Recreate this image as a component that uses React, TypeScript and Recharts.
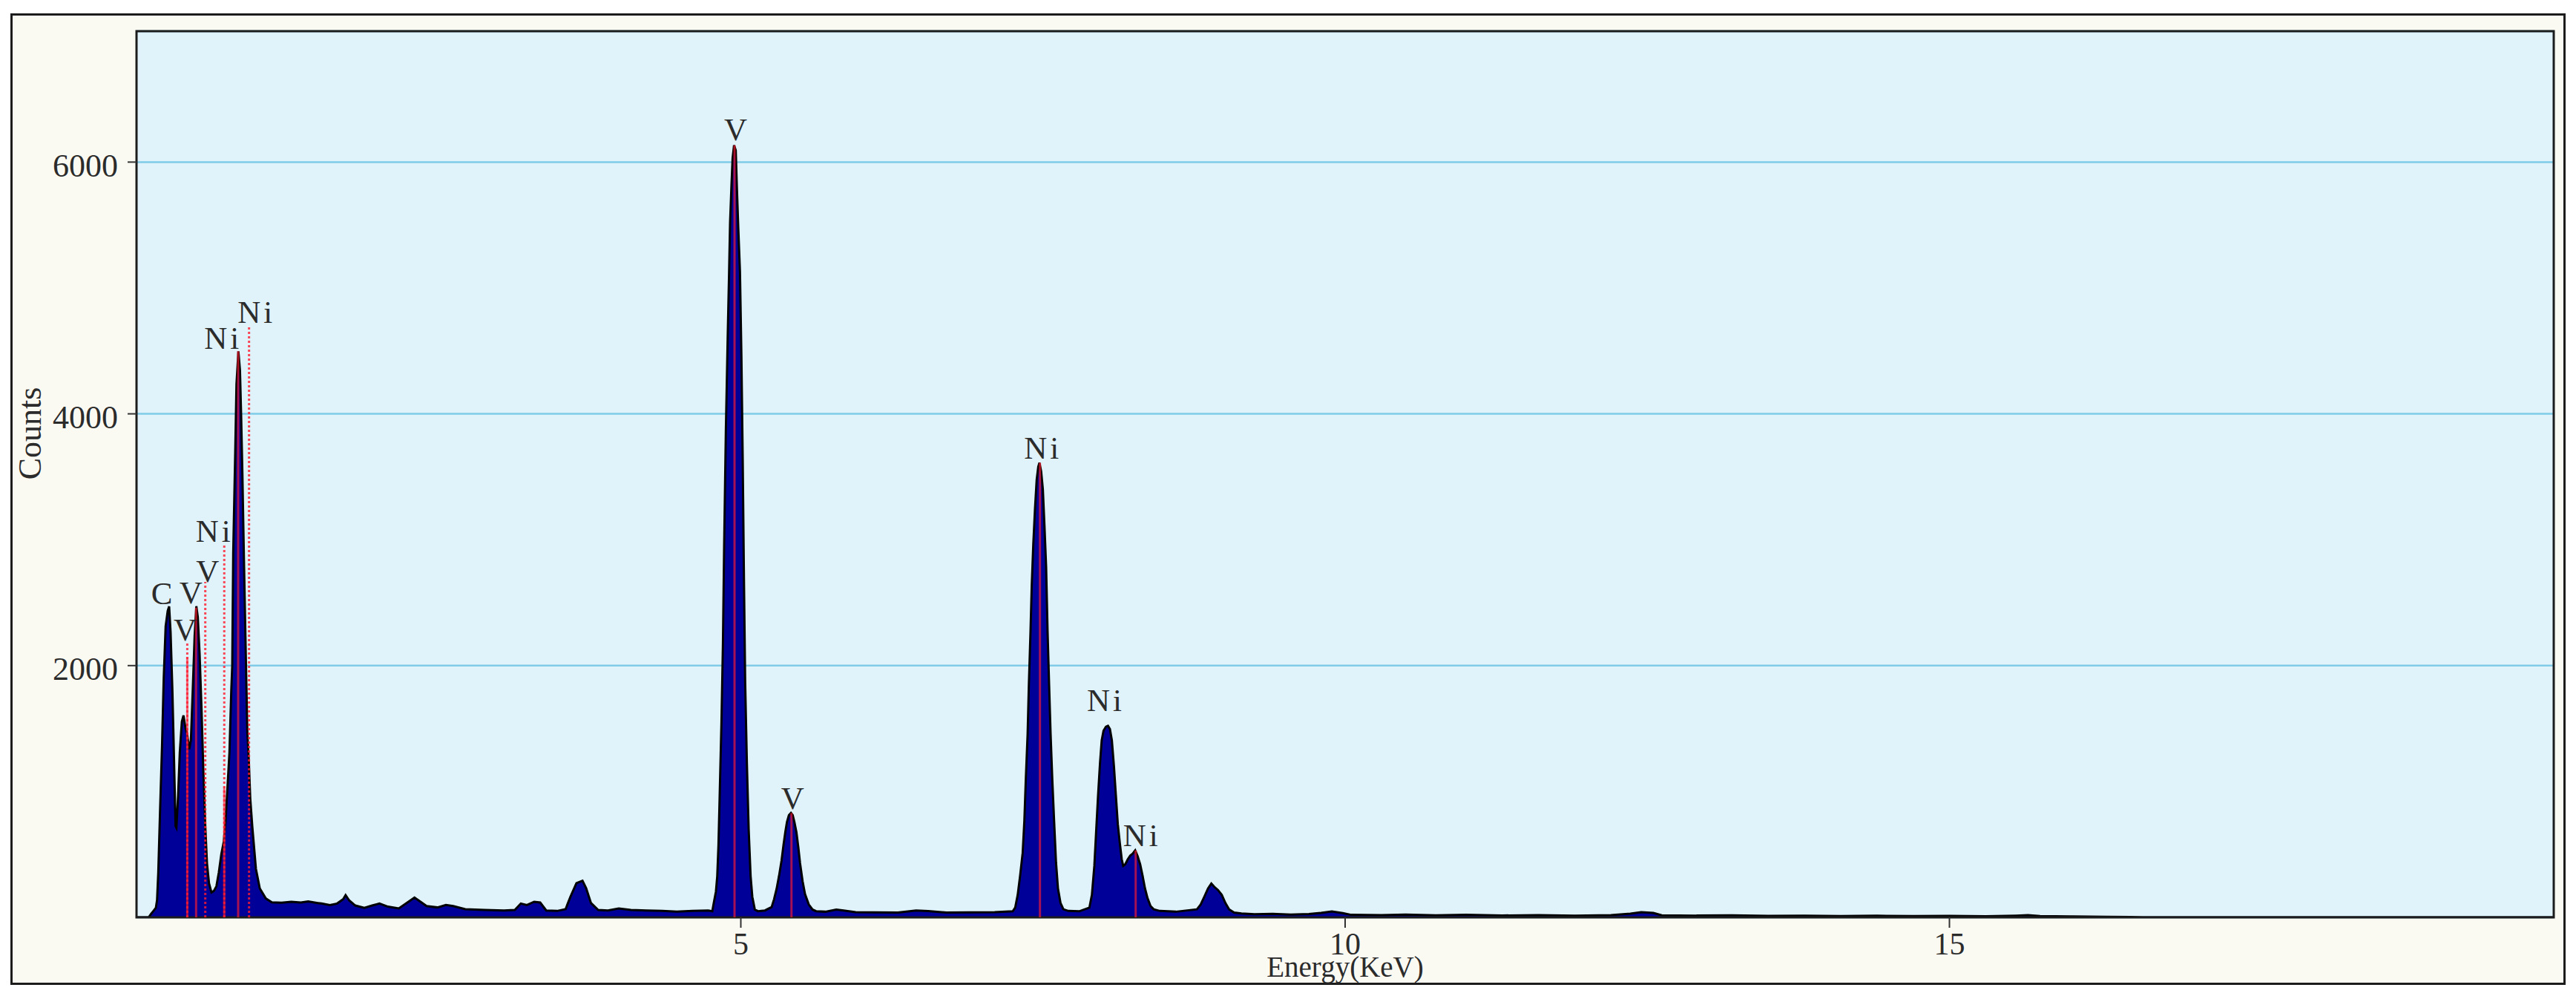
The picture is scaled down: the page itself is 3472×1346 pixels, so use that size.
import React from 'react';
import {
  ComposedChart,
  Area,
  XAxis,
  YAxis,
  CartesianGrid,
  ReferenceLine,
  ReferenceDot,
  ReferenceArea,
} from 'recharts';

// ---- spectrum: [energy keV, counts] ----
const lowEnergyBand: [number, number][] = [
  [0, 0], [0.1, 0], [0.12, 27], [0.14, 51], [0.16, 76], [0.17, 137], [0.18, 357],
  [0.194, 822], [0.211, 1359], [0.225, 1897], [0.241, 2313], [0.258, 2435], [0.27, 2470],
  [0.282, 2264], [0.297, 1800], [0.309, 1310], [0.323, 724], [0.33, 711], [0.344, 968],
  [0.358, 1310], [0.375, 1555], [0.389, 1604], [0.405, 1506], [0.419, 1457], [0.436, 1335],
  [0.45, 1408], [0.466, 1824], [0.481, 2240], [0.495, 2472], [0.507, 2386], [0.522, 2093],
  [0.538, 1653], [0.553, 1164], [0.569, 724], [0.583, 430], [0.6, 271], [0.62, 198],
  [0.64, 210], [0.661, 247], [0.681, 357], [0.702, 504], [0.722, 601], [0.737, 773],
  [0.753, 1042], [0.769, 1310], [0.784, 1800], [0.792, 2000], [0.8, 2889], [0.817, 3712],
  [0.827, 4235], [0.843, 4497], [0.856, 4347], [0.866, 3973], [0.876, 3525], [0.888, 2889],
  [0.906, 1992], [0.917, 1469], [0.929, 1245], [0.941, 946], [0.958, 721], [0.988, 385],
  [1.02, 230], [1.07, 150], [1.12, 120],
];

const backgroundToVanadium: [number, number][] = [
  [1.2, 116], [1.28, 124], [1.36, 118], [1.42, 126], [1.5, 114], [1.53, 110], [1.6, 98],
  [1.66, 110], [1.71, 144], [1.73, 177], [1.76, 134], [1.81, 94], [1.885, 75], [1.95, 94],
  [2.01, 110], [2.08, 85], [2.17, 71], [2.25, 124], [2.3, 157], [2.35, 124], [2.4, 90],
  [2.49, 79], [2.56, 98], [2.62, 90], [2.72, 65], [2.88, 59], [3.04, 55], [3.13, 59],
  [3.18, 110], [3.23, 98], [3.29, 124], [3.34, 118], [3.39, 55], [3.48, 51], [3.55, 65],
  [3.59, 163], [3.64, 272], [3.69, 291], [3.72, 232], [3.76, 114], [3.82, 59], [3.9, 55],
  [3.99, 71], [4.09, 59], [4.22, 55], [4.35, 51], [4.47, 45], [4.6, 51], [4.73, 55],
];

const vanadiumK: [number, number][] = [
  [4.764, 49], [4.774, 103], [4.794, 205], [4.805, 328], [4.815, 574], [4.825, 964],
  [4.84, 1559], [4.852, 2175], [4.862, 2954], [4.876, 3857], [4.891, 4595], [4.903, 5129],
  [4.911, 5519], [4.923, 5826], [4.932, 6031], [4.944, 6134], [4.958, 6093], [4.968, 5785],
  [4.979, 5478], [4.993, 5129], [5.005, 4452], [5.016, 3611], [5.026, 2687], [5.036, 1867],
  [5.05, 1231], [5.065, 698], [5.081, 328], [5.095, 164], [5.116, 62], [5.142, 49],
  [5.2, 55], [5.255, 82], [5.275, 144], [5.296, 226], [5.316, 328], [5.337, 451],
  [5.353, 574], [5.368, 677], [5.382, 759], [5.398, 812], [5.415, 829], [5.429, 812],
  [5.443, 759], [5.46, 677], [5.476, 554], [5.49, 431], [5.511, 287], [5.531, 185],
  [5.562, 103], [5.593, 62], [5.623, 49],
];

const backgroundToNickel: [number, number][] = [
  [5.7, 45], [5.79, 62], [5.85, 55], [5.95, 42], [6.1, 40], [6.3, 38], [6.45, 55],
  [6.55, 50], [6.7, 38], [6.9, 40], [7.1, 42], [7.25, 48],
];

const nickelK: [number, number][] = [
  [7.27, 77], [7.291, 179], [7.311, 332], [7.332, 512], [7.346, 767], [7.358, 1100],
  [7.373, 1458], [7.383, 1841], [7.397, 2276], [7.407, 2634], [7.42, 2967], [7.434, 3248],
  [7.448, 3478], [7.461, 3580], [7.471, 3611], [7.485, 3542], [7.499, 3401], [7.512, 3120],
  [7.526, 2788], [7.538, 2276], [7.551, 1841], [7.563, 1458], [7.577, 1100], [7.592, 767],
  [7.608, 435], [7.624, 230], [7.645, 115], [7.669, 64], [7.71, 51], [7.8, 48],
  [7.884, 77], [7.905, 179], [7.925, 409], [7.939, 665], [7.956, 972], [7.972, 1228],
  [7.986, 1407], [8.001, 1483], [8.021, 1514], [8.038, 1522], [8.054, 1496], [8.07, 1407],
  [8.087, 1202], [8.103, 972], [8.119, 742], [8.136, 588], [8.152, 460], [8.164, 409],
  [8.181, 422], [8.201, 460], [8.222, 491], [8.242, 506], [8.263, 532], [8.283, 486],
  [8.304, 422], [8.324, 332], [8.344, 230], [8.365, 153], [8.39, 90], [8.416, 64],
  [8.467, 51], [8.6, 45], [8.774, 64], [8.805, 102], [8.836, 166], [8.866, 230],
  [8.893, 269], [8.917, 243], [8.948, 217], [8.979, 179], [9.009, 115], [9.04, 64],
  [9.081, 38], [9.142, 31],
];

const highEnergyTail: [number, number][] = [
  [9.25, 25], [9.4, 28], [9.55, 22], [9.7, 26], [9.8, 35], [9.89, 47], [9.98, 34],
  [10.05, 20], [10.3, 18], [10.5, 22], [10.75, 16], [11.0, 20], [11.3, 15], [11.6, 18],
  [11.9, 14], [12.2, 17], [12.36, 30], [12.45, 41], [12.55, 35], [12.62, 16], [12.9, 14],
  [13.2, 16], [13.5, 12], [13.8, 14], [14.1, 11], [14.4, 13], [14.7, 10], [15.0, 12],
  [15.3, 9], [15.55, 14], [15.65, 18], [15.75, 10], [16.0, 8], [16.3, 5], [16.5, 3],
  [16.6, 0], [20, 0],
];

// ---- element markers ----
const solidMarkerEnergies = [0.42, 0.493, 0.726, 0.841, 4.948, 5.419, 7.475, 8.267];
const solidMarkerTops = [2067, 2460, 1034, 4497, 6134, 829, 3611, 532];
const dottedMarkerEnergies = [0.42, 0.569, 0.726, 0.931];
const dottedMarkerTops = [2179, 2665, 2964, 4702];

const labelTexts = ['C', 'V', 'V', 'V', 'Ni', 'Ni', 'Ni', 'V', 'V', 'Ni', 'Ni', 'Ni'];
const labelEnergies = [0.221, 0.415, 0.462, 0.6, 0.646, 0.716, 0.993, 4.97, 5.44, 7.5, 8.02, 8.32];
const labelCounts = [2486, 2198, 2497, 2665, 2983, 4516, 4721, 6172, 862, 3644, 1637, 568];

// ---- axes ----
const xTicks = [5, 10, 15];
const yTicks = [2000, 4000, 6000];
const xDomain: [number, number] = [0, 20];
const yDomain: [number, number] = [0, 7040];

const spectrum = [
  ...lowEnergyBand,
  ...backgroundToVanadium,
  ...vanadiumK,
  ...backgroundToNickel,
  ...nickelK,
  ...highEnergyTail,
].map(([energy, counts]) => ({ energy, counts }));

const FONT = '"Liberation Serif", "Times New Roman", serif';
const TEXT = '#2b2b2b';
const RED = '#ff1a2e';

export default function App() {
  return (
    <div
      style={{
        position: 'absolute',
        left: 0,
        top: 0,
        width: 3472,
        height: 1346,
        background: '#ffffff',
        overflow: 'hidden',
      }}
    >
      <div
        style={{
          position: 'absolute',
          left: 14,
          top: 18,
          width: 3444,
          height: 1309,
          boxSizing: 'border-box',
          border: '3px solid #1c1c1c',
          background: '#fafaf3',
        }}
      />
      <div style={{ position: 'absolute', left: 0, top: 0 }}>
        <ComposedChart
          width={3472}
          height={1346}
          data={spectrum}
          margin={{ top: 42, right: 30, bottom: 0, left: 0 }}
        >
          <CartesianGrid
            vertical={false}
            fill="#e0f2fa"
            stroke="#7fcbe8"
            strokeWidth={2.5}
          />
          <XAxis
            type="number"
            dataKey="energy"
            domain={xDomain}
            ticks={xTicks}
            interval={0}
            allowDataOverflow
            axisLine={false}
            tickSize={14}
            tickMargin={6}
            height={110}
            tickLine={{ stroke: '#333', strokeWidth: 2 }}
            tick={{ fontSize: 42, fill: TEXT, fontFamily: FONT }}
            label={(props: any) => {
              const vb = props.viewBox || {};
              return (
                <text
                  x={vb.x + vb.width / 2}
                  y={vb.y + 80}
                  textAnchor="middle"
                  fontSize={39}
                  fill={TEXT}
                  fontFamily={FONT}
                >
                  Energy(KeV)
                </text>
              );
            }}
          />
          <YAxis
            type="number"
            domain={yDomain}
            ticks={yTicks}
            interval={0}
            allowDataOverflow
            axisLine={false}
            width={184}
            tickSize={12}
            tickMargin={13}
            tickLine={{ stroke: '#333', strokeWidth: 2 }}
            tick={{ fontSize: 44, fill: TEXT, fontFamily: FONT, dy: 4 }}
            label={(props: any) => {
              const vb = props.viewBox || {};
              const cx = 40;
              const cy = vb.y + vb.height / 2 - 55;
              return (
                <text
                  x={cx}
                  y={cy}
                  transform={`rotate(-90, ${cx}, ${cy})`}
                  textAnchor="middle"
                  dominantBaseline="central"
                  fontSize={44}
                  fill={TEXT}
                  fontFamily={FONT}
                >
                  Counts
                </text>
              );
            }}
          />
          <Area
            type="linear"
            dataKey="counts"
            fill="#000099"
            fillOpacity={1}
            stroke="#000000"
            strokeWidth={3}
            dot={false}
            activeDot={false}
            isAnimationActive={false}
          />
          {dottedMarkerEnergies.map((e, i) => (
            <ReferenceLine
              key={`d${i}`}
              segment={[
                { x: e, y: 0 },
                { x: e, y: dottedMarkerTops[i] },
              ]}
              stroke={RED}
              strokeOpacity={0.8}
              strokeWidth={3}
              strokeDasharray="3 3"
            />
          ))}
          {solidMarkerEnergies.map((e, i) => (
            <ReferenceLine
              key={`s${i}`}
              segment={[
                { x: e, y: 0 },
                { x: e, y: solidMarkerTops[i] },
              ]}
              stroke={RED}
              strokeOpacity={0.65}
              strokeWidth={3}
            />
          ))}
          {labelTexts.map((t, i) => (
            <ReferenceDot
              key={`l${i}`}
              x={labelEnergies[i]}
              y={labelCounts[i]}
              r={0}
              shape={(p: any) => (
                <text
                  x={p.cx}
                  y={p.cy}
                  textAnchor="middle"
                  fontSize={43}
                  letterSpacing={4}
                  fill={TEXT}
                  fontFamily={FONT}
                >
                  {t}
                </text>
              )}
            />
          ))}
          <ReferenceArea
            x1={xDomain[0]}
            x2={xDomain[1]}
            y1={yDomain[0]}
            y2={yDomain[1]}
            fill="none"
            stroke="#1c1c1c"
            strokeWidth={3}
          />
        </ComposedChart>
      </div>
    </div>
  );
}
